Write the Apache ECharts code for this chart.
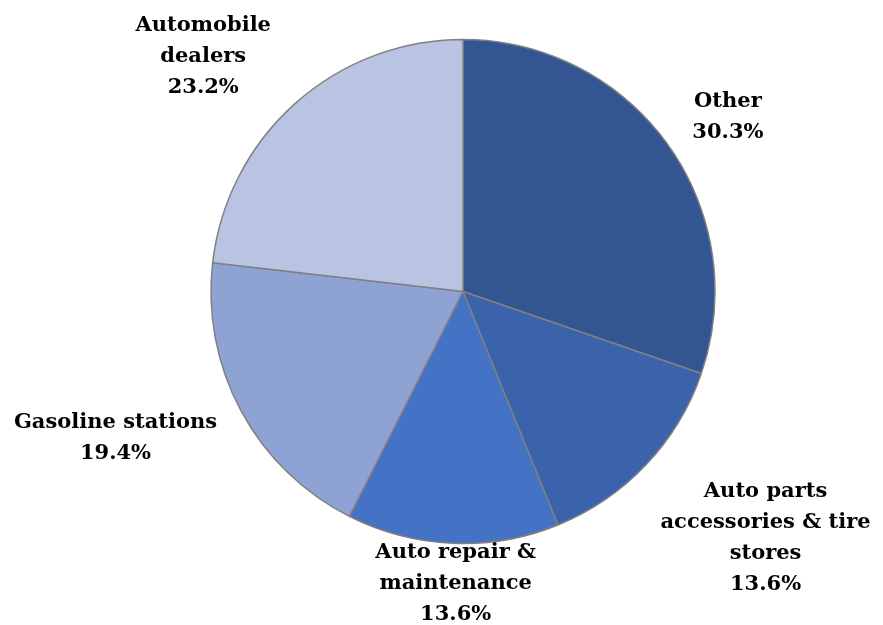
<!DOCTYPE html>
<html>
<head>
<meta charset="utf-8">
<script src="https://cdn.jsdelivr.net/npm/echarts@6/dist/echarts.min.js"></script>
<style>html,body{margin:0;padding:0;background:#fff}#c{width:883px;height:625px}</style>
</head>
<body>
<div id="c"></div>
<script>
var categories = ['Other', 'Auto parts\naccessories & tire\nstores', 'Auto repair &\nmaintenance', 'Gasoline stations', 'Automobile\ndealers'];
var values = [30.3, 13.6, 13.6, 19.4, 23.2];
var colors = ['#335592', '#3A63AC', '#4472C4', '#8EA3D4', '#B9C3E2'];

// label placement relative to pie centre: [distance px, angle offset deg]
var labelPolar = [[317, 2.2], [390, -4.3], [292, -0.9], [377, 5.5], [350, -6.2]];
var cx = 463, cy = 291.5, R = 252;

var total = values.reduce(function(a, b){ return a + b; }, 0);
var mids = [];
var acc = 0;
values.forEach(function(v){ mids.push((acc + v / 2) / total * 360); acc += v; });

var chart = echarts.init(document.getElementById('c'));
chart.setOption({
  animation: false,
  series: [{
    type: 'pie',
    center: [cx, cy],
    radius: R,
    startAngle: 90,
    clockwise: true,
    data: categories.map(function(c, i){ return {name: c, value: values[i], itemStyle: {color: colors[i]}}; }),
    itemStyle: {borderColor: '#808080', borderWidth: 1.5},
    label: {
      show: true,
      position: 'outside',
      formatter: function(p){ return p.name + '\n' + p.value.toFixed(1) + '%'; },
      fontFamily: 'DejaVu Serif',
      fontWeight: 'bold',
      fontSize: 21,
      lineHeight: 31,
      color: '#000',
      align: 'center',
      overflow: 'none',
      width: 400
    },
    labelLine: {show: false},
    labelLayout: function(p){
      var i = p.dataIndex;
      var a = (mids[i] + labelPolar[i][1]) * Math.PI / 180;
      var d = labelPolar[i][0];
      return {x: cx + d * Math.sin(a), y: cy - d * Math.cos(a), align: 'center', verticalAlign: 'middle'};
    },
    emphasis: {disabled: true}
  }]
});
</script>
</body>
</html>
